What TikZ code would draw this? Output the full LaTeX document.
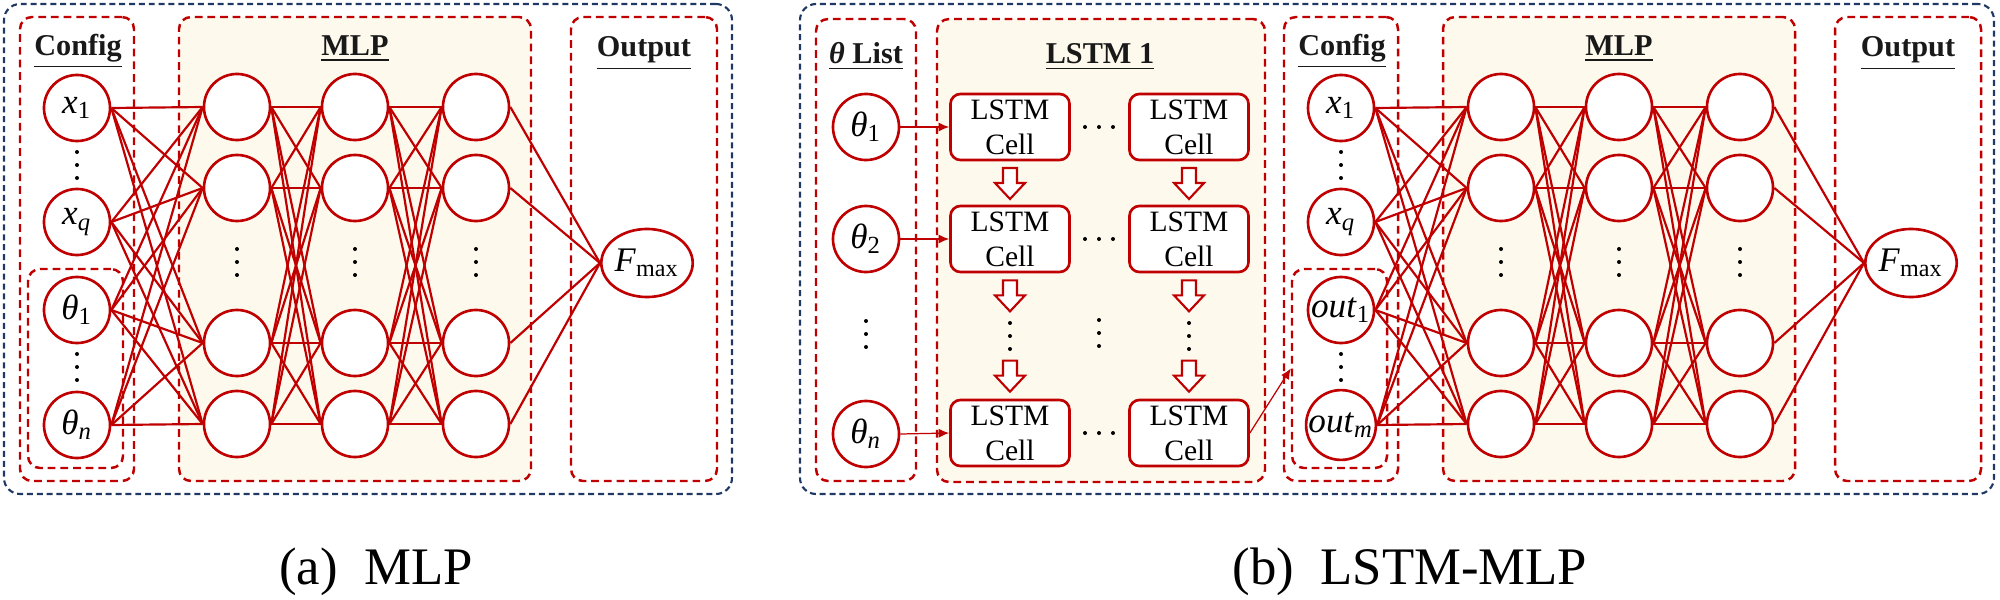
\documentclass[tikz,border=0pt]{standalone}
\usepackage{fontspec}
\setmainfont{Liberation Serif}
\usetikzlibrary{arrows.meta,positioning,fit,calc,shapes.geometric}

\definecolor{netred}{RGB}{192,0,0}
\definecolor{boxnavy}{RGB}{31,56,100}
\definecolor{cream}{RGB}{253,249,236}
\definecolor{labelgray}{RGB}{25,25,25}

\tikzset{
    neuron/.style={circle,draw=netred,line width=0.75pt,fill=white,minimum size=0.66cm,
        inner sep=0pt,font=\fontsize{10}{12}\selectfont},
    outneuron/.style={ellipse,draw=netred,line width=0.75pt,fill=white,minimum width=0.89cm,
        minimum height=0.68cm,inner sep=0pt,font=\fontsize{9.8}{12}\selectfont},
    cellbox/.style={rectangle,rounded corners=0.1cm,draw=netred,line width=0.75pt,fill=white,
        minimum width=1.19cm,minimum height=0.66cm,inner sep=0pt,align=center,
        font=\fontsize{8.4}{10}\selectfont},
    grpbox/.style={rectangle,rounded corners=0.12cm,draw=netred,line width=0.7pt,
        dash pattern=on 2.2pt off 1.4pt,inner sep=0pt},
    panelbox/.style={rectangle,rounded corners=0.16cm,draw=boxnavy,line width=0.6pt,
        dash pattern=on 1.7pt off 1.1pt,inner sep=0pt},
    grplabel/.style={font=\fontsize{8.6}{10}\selectfont\bfseries,text=labelgray,anchor=base},
    link/.style={draw=netred,line width=0.62pt},
    feed/.style={draw=netred,line width=0.35pt,-{Latex[length=3pt,width=2.6pt]}},
    captext/.style={font=\fontsize{15}{18}\selectfont},
    downarr/.pic={\draw[netred,line width=0.6pt,fill=white]
        (-7,-15) -- (-7,0) -- (-15,0) -- (0,16) -- (15,0) -- (7,0) -- (7,-15) -- cycle;},
    vdot/.pic={\foreach \k in {-13,0,13} \fill (0,\k) circle (2);},
    hdot/.pic={\foreach \k in {-14,0,14} \fill (\k,0) circle (2);}
}

\begin{document}
\begin{tikzpicture}[x=0.01cm,y=-0.01cm]
    \useasboundingbox (0,0) rectangle (2000,600);

    % panel frames
    \node[panelbox,fit={(4,4) (732,494)}] (a-frame) {};
    \node[panelbox,fit={(800,4) (1994,494)}] (b-frame) {};

    %
    % Config -> MLP -> Output, same in both panels
    %
    \foreach \p/\dx/\labc/\labd in {a/0/{\textit{θ}\textsubscript{1}}/{\textit{θ}\textsubscript{\textit{n}}},
                                     b/1264/{\textit{out}\textsubscript{1}}/{\textit{out}\textsubscript{\textit{m}}}} {
    \begin{scope}[shift={(\dx,0)}]
        \node[grpbox,fit={(20,17) (134,481)}] (\p-cfg) {};
        \node[grpbox,fit={(28,269) (123,468)}] (\p-grp) {};
        \node[grpbox,fill=cream,fit={(179,17) (531,481)}] (\p-mlp) {};
        \node[grpbox,fit={(571,17) (717,481)}] (\p-out) {};
        \node[grplabel] (\p-cfglab) at (78,55) {\underline{Config}};
        \node[grplabel] (\p-mlplab) at (355,55) {\underline{MLP}};
        \node[grplabel] (\p-outlab) at (644,57) {\underline{Output}};

        % input column
        \node[neuron] (\p-i1) at (77,108) {\textit{x}\textsubscript{1}};
        \node[neuron] (\p-i2) at (77,222) {\textit{x}\textsubscript{\textit{q}}};
        \node[neuron] (\p-i3) at (77,310) {\labc};
        \node[neuron] (\p-i4) at (77,425) {\labd};
        \pic at (77,165) {vdot};
        \pic at (77,367) {vdot};

        % hidden layers
        \foreach \c/\hx in {1/237,2/355,3/476} {
            \foreach \r/\hy in {1/107,2/188,3/343,4/424}
                \node[neuron] (\p-h\c\r) at (\hx,\hy) {};
            \pic at (\hx,262) {vdot};
        }
        \node[outneuron] (\p-f) at (647,263) {\textit{F}\textsubscript{max}};

        % full connections
        \foreach \i in {1,...,4}
            \foreach \r in {1,...,4}
                \draw[link] (\p-i\i.east) -- (\p-h1\r.west);
        \foreach \c/\n in {1/2,2/3}
            \foreach \i in {1,...,4}
                \foreach \r in {1,...,4}
                    \draw[link] (\p-h\c\i.east) -- (\p-h\n\r.west);
        \foreach \r in {1,...,4}
            \draw[link] (\p-h3\r.east) -- (\p-f.west);
    \end{scope}
    }

    %
    % theta list and LSTM 1 (panel b)
    %
    \node[grpbox,fit={(816,19) (916,481)}] (thlist) {};
    \node[grpbox,fill=cream,fit={(937,19) (1265,482)}] (lstm) {};
    \node[grplabel] (thlab) at (866,63) {\underline{\textit{θ} List}};
    \node[grplabel] (lstmlab) at (1100,63) {\underline{LSTM 1}};

    \node[neuron] (th1) at (866,127) {\textit{θ}\textsubscript{1}};
    \node[neuron] (th2) at (866,239) {\textit{θ}\textsubscript{2}};
    \node[neuron] (thn) at (866,434) {\textit{θ}\textsubscript{\textit{n}}};
    \pic at (866,334) {vdot};

    % cells, rows 1,2 and last
    \foreach \c/\cx in {1/1010,2/1189}
        \foreach \r/\ry in {1/127,2/239,3/433}
            \node[cellbox] (c\c\r) at (\cx,\ry) {LSTM\\Cell};
    \foreach \ry in {127,239,433}
        \pic at (1099,\ry) {hdot};
    \pic at (1099,333) {vdot};

    % state passed down each column
    \foreach \c in {1,2} {
        \pic at ($(c\c1.south)!0.5!(c\c2.north)$) {downarr};
        \pic at ($(c\c2.south)+(0,22)$) {downarr};
        \pic at ($(c\c2.south)!0.5!(c\c3.north)$) {vdot};
        \pic at ($(c\c3.north)+(0,-23)$) {downarr};
    }

    % inputs into the first column, last output into Config
    \draw[feed] (th1.east) -- (c11.west);
    \draw[feed] (th2.east) -- (c12.west);
    \draw[feed] (thn.east) -- (c13.west);
    \draw[feed] (c23.east) -- (b-grp.west);

    % captions
    \node[captext] (capa) at (376,572) {(a)~~MLP};
    \node[captext] (capb) at (1410,572) {(b)~~LSTM-MLP};
\end{tikzpicture}
\end{document}
